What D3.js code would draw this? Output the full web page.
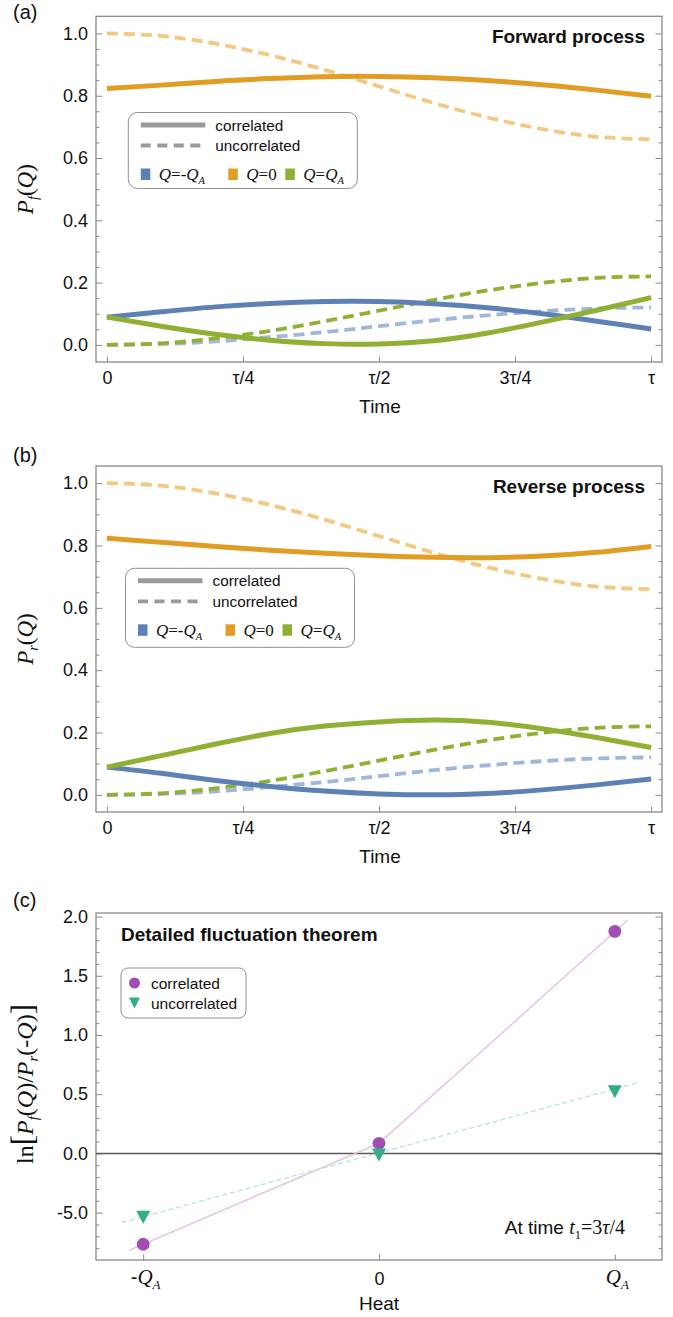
<!DOCTYPE html>
<html>
<head>
<meta charset="utf-8">
<script src="https://cdn.jsdelivr.net/npm/d3@7"></script>
<style>
  body { margin: 0; background: #fff; }
  svg text { font-family: "Liberation Sans", Arial, Helvetica, sans-serif; fill: #111; }
</style>
</head>
<body>
<svg id="fig" width="673" height="1317"></svg>
<script>
// ---- data (time in units of tau) ----
const timeT = [0, 0.1, 0.2, 0.3, 0.4, 0.5, 0.6, 0.7, 0.8, 0.9, 1];
const timeTicks = [0, 0.25, 0.5, 0.75, 1];
const timeTickLabels = ["0", "τ/4", "τ/2", "3τ/4", "τ"];
const probTicks = [0, 0.2, 0.4, 0.6, 0.8, 1.0];
const probTickLabels = ["0.0", "0.2", "0.4", "0.6", "0.8", "1.0"];

// forward process, correlated
const fwdCorrMinus = [0.089, 0.106, 0.122, 0.133, 0.139, 0.139, 0.132, 0.119, 0.100, 0.076, 0.051];
const fwdCorrZero  = [0.823, 0.834, 0.846, 0.855, 0.861, 0.862, 0.858, 0.849, 0.835, 0.818, 0.798];
const fwdCorrPlus  = [0.089, 0.060, 0.034, 0.015, 0.004, 0.003, 0.013, 0.038, 0.073, 0.111, 0.152];
// reverse process, correlated
const revCorrMinus = [0.089, 0.069, 0.046, 0.027, 0.012, 0.003, 0.000, 0.004, 0.016, 0.032, 0.051];
const revCorrZero  = [0.823, 0.810, 0.797, 0.785, 0.775, 0.767, 0.762, 0.761, 0.766, 0.778, 0.797];
const revCorrPlus  = [0.089, 0.126, 0.163, 0.197, 0.221, 0.234, 0.240, 0.233, 0.212, 0.184, 0.152];
// uncorrelated (same curves in both panels)
const uncorrMinus = [0, 0.003, 0.011, 0.025, 0.041, 0.060, 0.079, 0.095, 0.108, 0.117, 0.120];
const uncorrZero  = [1.0, 0.992, 0.967, 0.930, 0.883, 0.830, 0.777, 0.730, 0.693, 0.668, 0.660];
const uncorrPlus  = [0, 0.005, 0.021, 0.045, 0.076, 0.110, 0.144, 0.175, 0.199, 0.215, 0.220];

const solidColors  = ["#5E81B5", "#E19C24", "#8FB032"];
const dashedColors = ["#A0B6DA", "#F3C881", "#8FB032"];

// panel (c): detailed fluctuation theorem at t1 = 3tau/4
const heatQ = [-1, 0, 1];
const heatTickLabels = [["-Q", "A"], ["0", ""], ["Q", "A"]];
const lnCorr   = [-0.767, 0.085, 1.875];
const lnUncorr = [-0.54, -0.014, 0.52];
const fitCorrQ = [-1.06, 0, 1.055];
const fitCorrY = [-0.818, 0.085, 1.97];
const fitUncorrQ = [-1.09, 1.105];
const fitUncorrY = [-0.583, 0.600];
const lnTicks = [-0.5, 0, 0.5, 1, 1.5, 2];
const lnTickLabels = ["-5.0", "0.0", "0.5", "1.0", "1.5", "2.0"];

const svg = d3.select("#fig");
const frameL = 96, frameR = 662;
const gray = "#8a8a8a";
const serif = "'Liberation Serif','Times New Roman',serif";

function styleAxis(g) {
  g.select(".domain").remove();
  g.selectAll(".tick line").attr("stroke", gray).attr("stroke-width", 1);
  g.selectAll(".tick text").style("font-size", "18px").attr("fill", "#111");
}

function frame(top, bottom) {
  svg.append("rect")
    .attr("x", frameL).attr("y", top)
    .attr("width", frameR - frameL).attr("height", bottom - top)
    .attr("fill", "none").attr("stroke", gray).attr("stroke-width", 1.3);
}

// italic serif symbol with optional subscript
function mathText(sel, parts, size) {
  parts.forEach(p => {
    const t = sel.append("tspan").text(p.t)
      .style("font-family", serif)
      .style("font-style", p.i ? "italic" : "normal")
      .style("font-size", (p.size || size) + "px");
    if (p.sub) t.attr("dy", p.sub).style("font-size", (size * 0.62) + "px");
    if (p.dy) t.attr("dy", p.dy);
  });
}

function timePanel(o) {
  const x = d3.scaleLinear().domain([-0.02, 1.02]).range([frameL, frameR]);
  const y = d3.scaleLinear().domain([-0.055, 1.055]).range([o.bottom, o.top]);

  frame(o.top, o.bottom);

  const minor = d3.range(0, 1.0001, 0.05).filter(v => Math.abs(v * 5 - Math.round(v * 5)) > 1e-6);
  svg.append("g").attr("transform", `translate(${frameL},0)`)
    .call(d3.axisLeft(y).tickValues(minor).tickSize(-3.5).tickFormat(""))
    .call(styleAxis);
  svg.append("g").attr("transform", `translate(${frameR},0)`)
    .call(d3.axisRight(y).tickValues(minor).tickSize(-3.5).tickFormat(""))
    .call(styleAxis);
  svg.append("g").attr("transform", `translate(${frameL},0)`)
    .call(d3.axisLeft(y).tickValues(probTicks).tickSize(-6.5).tickPadding(8)
      .tickFormat((d, i) => probTickLabels[i]))
    .call(styleAxis);
  svg.append("g").attr("transform", `translate(${frameR},0)`)
    .call(d3.axisRight(y).tickValues(probTicks).tickSize(-6.5).tickFormat(""))
    .call(styleAxis);
  svg.append("g").attr("transform", `translate(0,${o.bottom})`)
    .call(d3.axisBottom(x).tickValues(timeTicks).tickSize(-5.5).tickPadding(9.5)
      .tickFormat((d, i) => timeTickLabels[i]))
    .call(styleAxis);

  const line = d3.line().x((d, i) => x(timeT[i])).y(d => y(d)).curve(d3.curveNatural);

  o.uncorr.forEach((s, k) => {
    svg.append("path").datum(s).attr("d", line)
      .attr("fill", "none").attr("stroke", dashedColors[k])
      .attr("stroke-width", 3.8).attr("stroke-dasharray", "11,6");
  });
  o.corr.forEach((s, k) => {
    svg.append("path").datum(s).attr("d", line)
      .attr("fill", "none").attr("stroke", solidColors[k])
      .attr("stroke-width", 5);
  });

  // panel letter, title, axis titles
  svg.append("text").attr("x", 13).attr("y", o.letterY).text(o.letter).style("font-size", "20px");
  svg.append("text").attr("x", 645).attr("y", o.top + 27).attr("text-anchor", "end")
    .text(o.title).style("font-size", "19px").style("font-weight", "bold");
  svg.append("text").attr("x", (frameL + frameR) / 2 + 1).attr("y", o.bottom + 51)
    .attr("text-anchor", "middle").text("Time").style("font-size", "19px");

  const yl = svg.append("text").attr("text-anchor", "middle")
    .attr("transform", `translate(33,${(o.top + o.bottom) / 2}) rotate(-90)`);
  mathText(yl, [
    { t: "P", i: true },
    { t: o.sub, i: true, sub: 5 },
    { t: "(", dy: -5 },
    { t: "Q", i: true },
    { t: ")" }
  ], 23);

  // legend
  const lg = svg.append("g").attr("transform", `translate(${o.legX},${o.legY})`);
  lg.append("rect").attr("width", 229).attr("height", o.legH).attr("rx", 9)
    .attr("fill", "#fff").attr("stroke", "#8f8f8f").attr("stroke-width", 1);
  lg.append("line").attr("x1", 12.5).attr("x2", 77).attr("y1", 12.5).attr("y2", 12.5)
    .attr("stroke", "#9a9a9a").attr("stroke-width", 5);
  lg.append("line").attr("x1", 12.5).attr("x2", 77).attr("y1", 33).attr("y2", 33)
    .attr("stroke", "#9a9a9a").attr("stroke-width", 3.8).attr("stroke-dasharray", "10,6.5");
  lg.append("text").attr("x", 87).attr("y", 18).text("correlated").style("font-size", "15.3px");
  lg.append("text").attr("x", 87).attr("y", 38.5).text("uncorrelated").style("font-size", "15.3px");
  const qLabels = [
    [{ t: "Q", i: true }, { t: "=-" }, { t: "Q", i: true }, { t: "A", i: true, sub: 4 }],
    [{ t: "Q", i: true }, { t: "=0" }],
    [{ t: "Q", i: true }, { t: "=" }, { t: "Q", i: true }, { t: "A", i: true, sub: 4 }]
  ];
  const qX = [12.5, 100, 157];
  qLabels.forEach((parts, k) => {
    lg.append("rect").attr("x", qX[k]).attr("y", 56).attr("width", 9.5).attr("height", 11.5)
      .attr("fill", solidColors[k]);
    const t = lg.append("text").attr("x", qX[k] + 18).attr("y", 67.5);
    mathText(t, parts, 17);
  });
}

timePanel({
  top: 16.3, bottom: 362, letter: "(a)", letterY: 19, title: "Forward process", sub: "f",
  corr: [fwdCorrMinus, fwdCorrZero, fwdCorrPlus],
  uncorr: [uncorrMinus, uncorrZero, uncorrPlus],
  legX: 128.3, legY: 112.5, legH: 76
});
timePanel({
  top: 466, bottom: 812, letter: "(b)", letterY: 462, title: "Reverse process", sub: "r",
  corr: [revCorrMinus, revCorrZero, revCorrPlus],
  uncorr: [uncorrMinus, uncorrZero, uncorrPlus],
  legX: 125.5, legY: 568.3, legH: 79
});

// ---- panel (c) ----
(function () {
  const top = 913, bottom = 1260;
  const x = d3.scaleLinear().domain([-1.2, 1.2]).range([frameL, frameR]);
  const y = d3.scaleLinear().domain([-0.9, 2.03]).range([bottom, top]);

  frame(top, bottom);

  const minor = d3.range(-8, 21).map(v => v / 10).filter(v => Math.abs(v * 2 - Math.round(v * 2)) > 1e-6);
  svg.append("g").attr("transform", `translate(${frameL},0)`)
    .call(d3.axisLeft(y).tickValues(minor).tickSize(-3.5).tickFormat(""))
    .call(styleAxis);
  svg.append("g").attr("transform", `translate(${frameR},0)`)
    .call(d3.axisRight(y).tickValues(minor).tickSize(-3.5).tickFormat(""))
    .call(styleAxis);
  svg.append("g").attr("transform", `translate(${frameL},0)`)
    .call(d3.axisLeft(y).tickValues(lnTicks).tickSize(-6.5).tickPadding(8)
      .tickFormat((d, i) => lnTickLabels[i]))
    .call(styleAxis);
  svg.append("g").attr("transform", `translate(${frameR},0)`)
    .call(d3.axisRight(y).tickValues(lnTicks).tickSize(-6.5).tickFormat(""))
    .call(styleAxis);
  const xa = svg.append("g").attr("transform", `translate(0,${bottom})`)
    .call(d3.axisBottom(x).tickValues(heatQ).tickSize(-5.5).tickPadding(10).tickFormat(""))
    .call(styleAxis);
  xa.selectAll(".tick").each(function (d, i) {
    const lab = heatTickLabels[i];
    const t = d3.select(this).append("text").attr("y", 24).attr("text-anchor", "middle")
      .attr("fill", "#111");
    if (lab[1]) {
      t.attr("x", 2);
      if (lab[0].startsWith("-")) {
        t.append("tspan").text("-").style("font-size", "20px");
      }
      mathText(t, [{ t: "Q", i: true }, { t: lab[1], i: true, sub: 5 }], 21);
    } else {
      t.text(lab[0]).style("font-size", "18px").attr("dy", 0.5);
    }
  });

  // zero line
  svg.append("line").attr("x1", frameL).attr("x2", frameR)
    .attr("y1", y(0)).attr("y2", y(0)).attr("stroke", "#5a5a5a").attr("stroke-width", 1.5);

  // guide lines
  svg.append("path").datum(fitCorrQ.map((q, i) => [q, fitCorrY[i]]))
    .attr("d", d3.line().x(d => x(d[0])).y(d => y(d[1])))
    .attr("fill", "none").attr("stroke", "#E4BCE8").attr("stroke-width", 1.3);
  svg.append("path").datum(fitUncorrQ.map((q, i) => [q, fitUncorrY[i]]))
    .attr("d", d3.line().x(d => x(d[0])).y(d => y(d[1])))
    .attr("fill", "none").attr("stroke", "#B5E6D6").attr("stroke-width", 1.3)
    .attr("stroke-dasharray", "5,3");

  const tri = (w, h) => `M${-w / 2},${-h / 2}L${w / 2},${-h / 2}L0,${h / 2}Z`;
  svg.selectAll(".mcorr").data(lnCorr).enter().append("circle")
    .attr("cx", (d, i) => x(heatQ[i])).attr("cy", d => y(d)).attr("r", 6.4)
    .attr("fill", "#A24DB2");
  svg.selectAll(".muncorr").data(lnUncorr).enter().append("path")
    .attr("transform", (d, i) => `translate(${x(heatQ[i])},${y(d)})`)
    .attr("d", tri(14, 13)).attr("fill", "#33AE88");

  // texts
  svg.append("text").attr("x", 13).attr("y", 907).text("(c)").style("font-size", "20px");
  svg.append("text").attr("x", 121).attr("y", 941).text("Detailed fluctuation theorem")
    .style("font-size", "19px").style("font-weight", "bold");
  svg.append("text").attr("x", (frameL + frameR) / 2).attr("y", 1310)
    .attr("text-anchor", "middle").text("Heat").style("font-size", "19px");

  const at = svg.append("text").attr("x", 625).attr("y", 1234).attr("text-anchor", "end")
    .style("font-size", "19px");
  at.append("tspan").text("At time ");
  mathText(at, [
    { t: "t", i: true },
    { t: "1", sub: 5 },
    { t: "=3", dy: -5 },
    { t: "τ", i: true },
    { t: "/4" }
  ], 20);

  const yl = svg.append("text").attr("text-anchor", "middle")
    .attr("transform", `translate(33,1084) rotate(-90)`);
  mathText(yl, [
    { t: "ln" },
    { t: "[", size: 31 },
    { t: "P", i: true },
    { t: "f", i: true, sub: 5 },
    { t: "(", dy: -5 },
    { t: "Q", i: true },
    { t: ")/" },
    { t: "P", i: true },
    { t: "r", i: true, sub: 5 },
    { t: "(-", dy: -5 },
    { t: "Q", i: true },
    { t: ")" },
    { t: "]", size: 31 }
  ], 24);

  // legend
  const lg = svg.append("g").attr("transform", "translate(121,968)");
  lg.append("rect").attr("width", 125).attr("height", 50).attr("rx", 7)
    .attr("fill", "#fff").attr("stroke", "#8f8f8f").attr("stroke-width", 1);
  lg.append("circle").attr("cx", 13.5).attr("cy", 15).attr("r", 5.5).attr("fill", "#A24DB2");
  lg.append("path").attr("transform", "translate(13.5,35)").attr("d", tri(11, 11)).attr("fill", "#33AE88");
  lg.append("text").attr("x", 30).attr("y", 20.5).text("correlated").style("font-size", "15.5px");
  lg.append("text").attr("x", 30).attr("y", 40.5).text("uncorrelated").style("font-size", "15.5px");
})();
</script>
</body>
</html>
